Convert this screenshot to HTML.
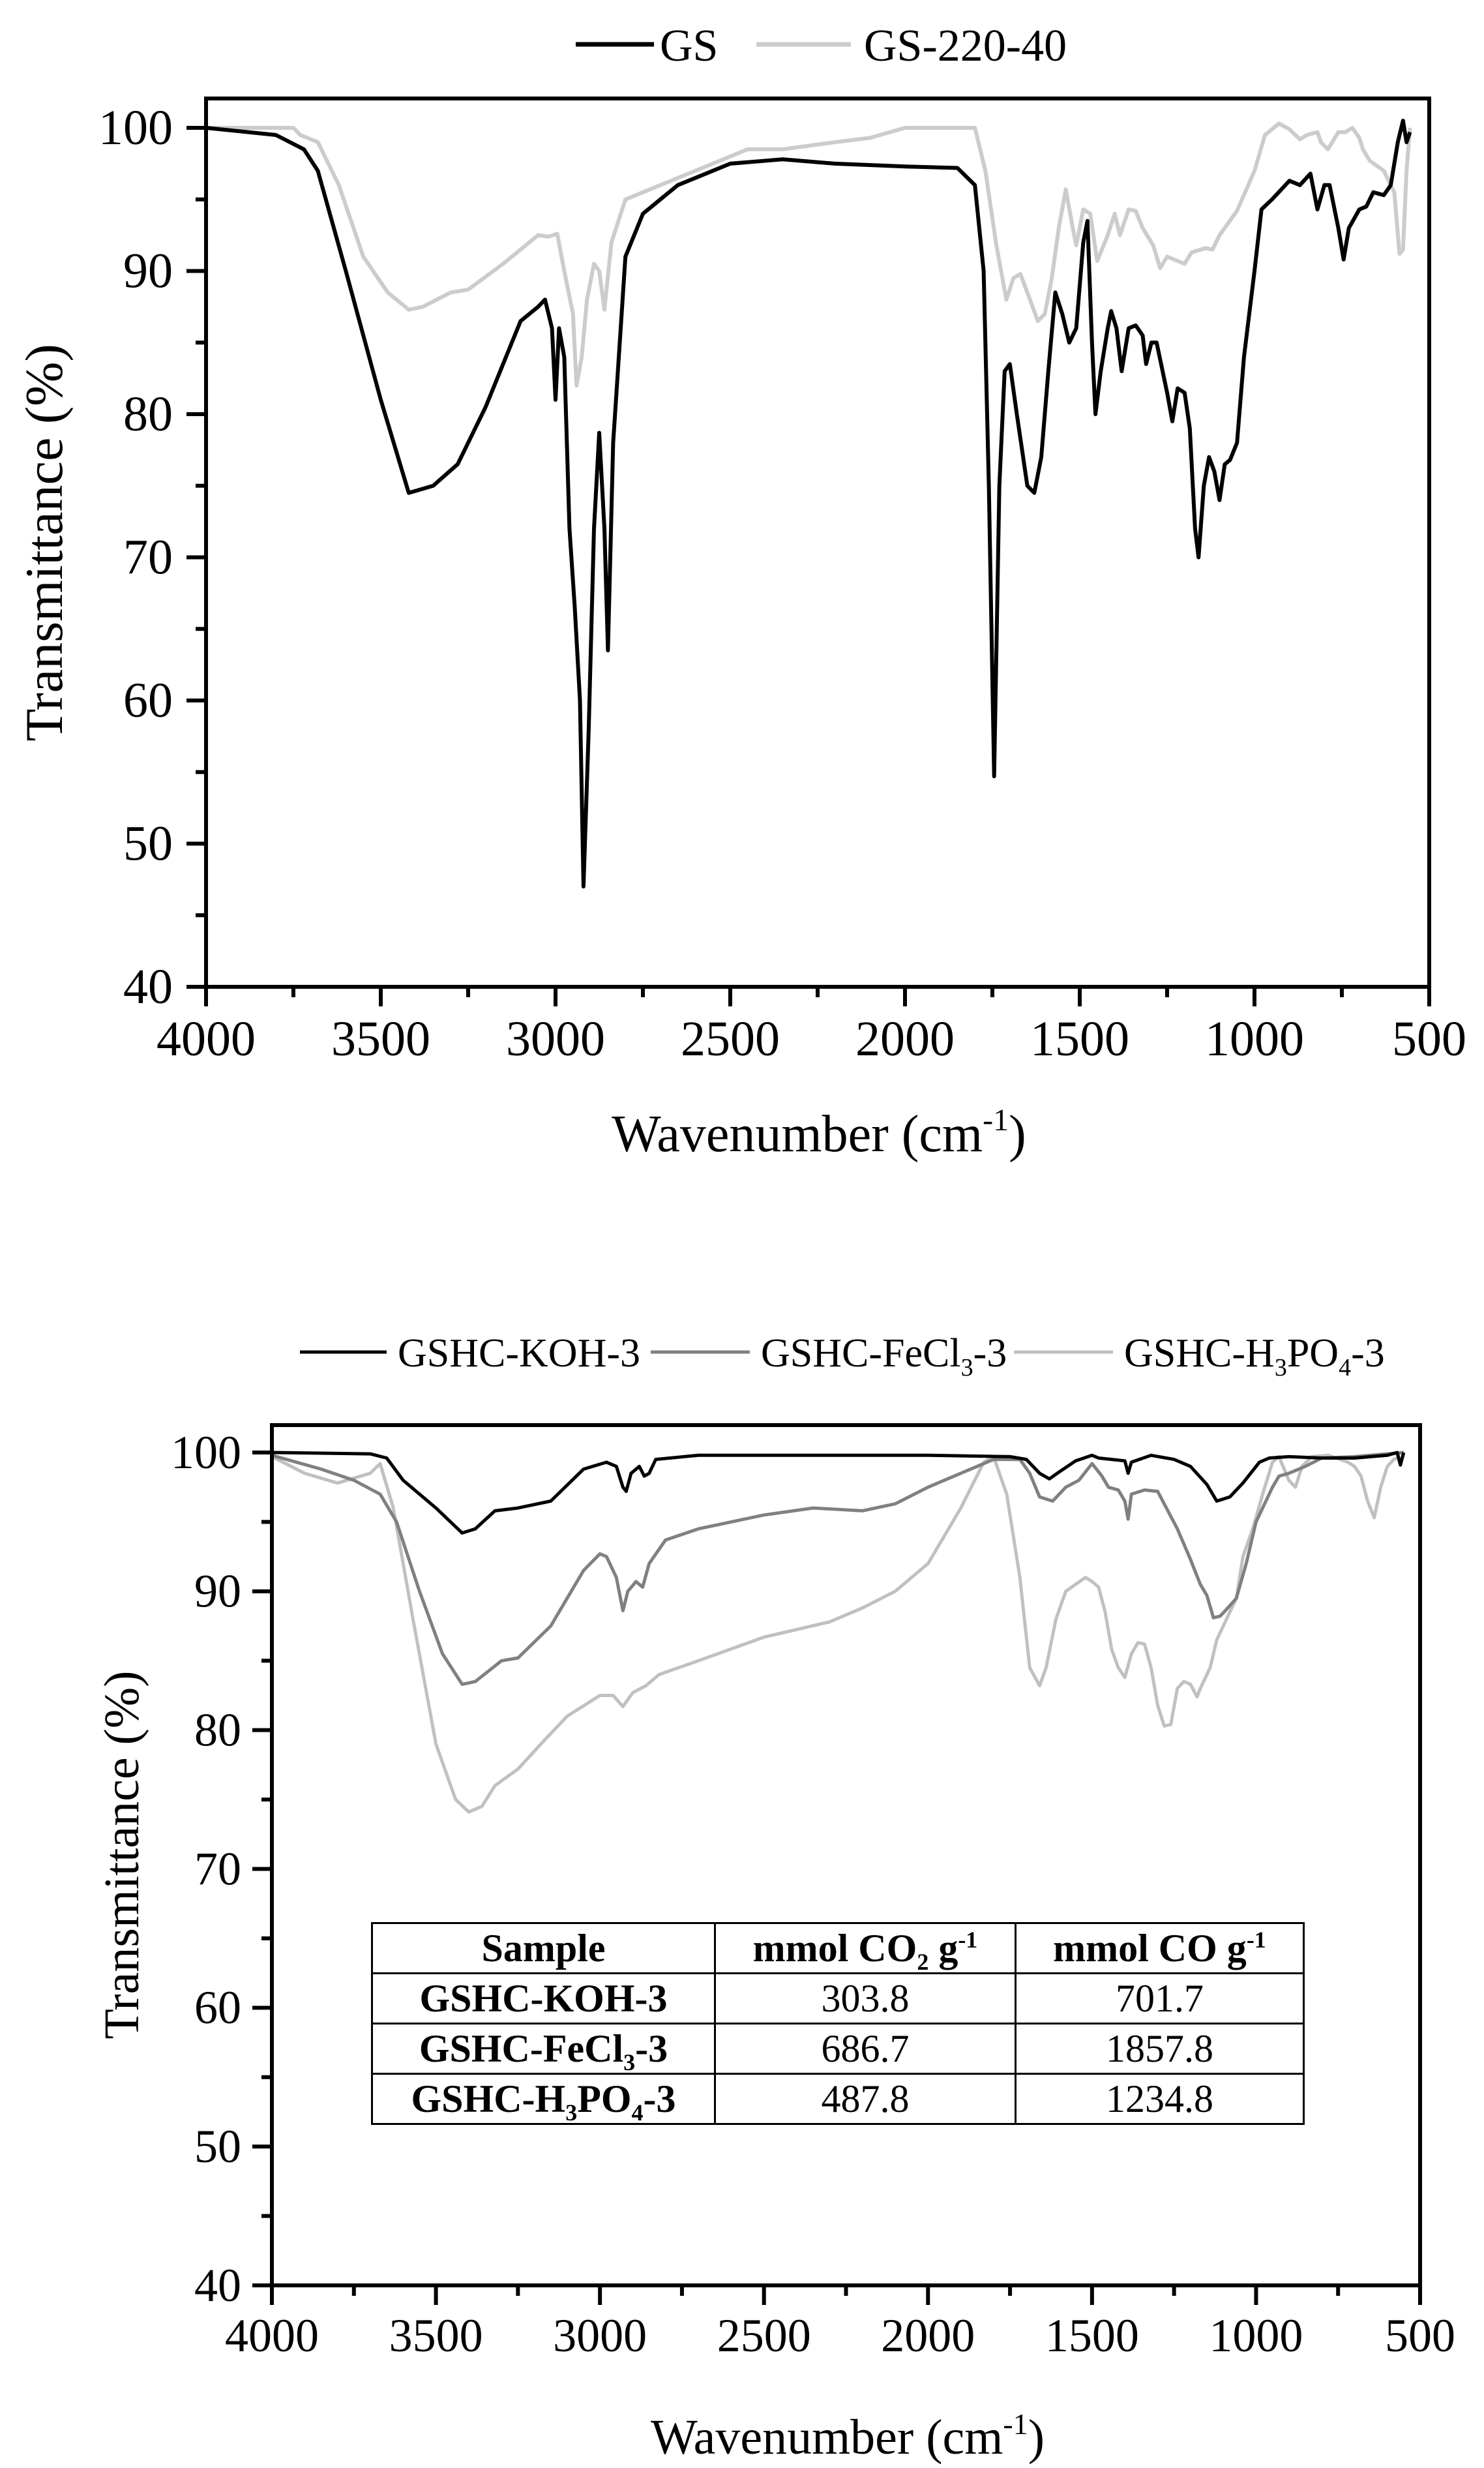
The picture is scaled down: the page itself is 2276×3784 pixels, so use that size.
<!DOCTYPE html>
<html><head><meta charset="utf-8">
<style>
html,body{margin:0;padding:0;background:#fff;}
body{width:2276px;height:3784px;position:relative;overflow:hidden;font-family:"Liberation Serif",serif;}
svg{position:absolute;left:0;top:0;}
svg text{font-family:"Liberation Serif",serif;}
.tbl{position:absolute;left:569px;top:2947px;border-collapse:collapse;font-family:"Liberation Serif",serif;font-size:60px;}
.tbl td{border:3px solid #000;text-align:center;padding:0;height:74px;line-height:74px;}
.b{font-weight:bold;}
sub,sup{font-size:0.6em;line-height:0;}
</style></head><body>
<svg id="s" width="2276" height="3784" xmlns="http://www.w3.org/2000/svg" font-family="'Liberation Serif', serif">
<g id="g"></g>
<line x1="883" y1="68" x2="1003" y2="68" stroke="#000" stroke-width="7"/>
<text x="1012" y="93" font-size="70">GS</text>
<line x1="1160" y1="68" x2="1305" y2="68" stroke="#cccccc" stroke-width="7"/>
<text x="1325" y="93" font-size="70">GS-220-40</text>
<text transform="translate(95,832) rotate(-90)" font-size="82" text-anchor="middle">Transmittance (%)</text>
<text x="1256" y="1765" font-size="80" text-anchor="middle">Wavenumber (cm<tspan dy="-32" font-size="48">-1</tspan><tspan dy="32">)</tspan></text>
<line x1="460" y1="2073" x2="593" y2="2073" stroke="#000" stroke-width="5"/>
<text x="610" y="2095" font-size="62">GSHC-KOH-3</text>
<line x1="998" y1="2073" x2="1150" y2="2073" stroke="#808080" stroke-width="5"/>
<text x="1167" y="2095" font-size="62">GSHC-FeCl<tspan dy="14" font-size="38">3</tspan><tspan dy="-14">-3</tspan></text>
<line x1="1555" y1="2073" x2="1707" y2="2073" stroke="#c0c0c0" stroke-width="5"/>
<text x="1724" y="2095" font-size="62">GSHC-H<tspan dy="14" font-size="38">3</tspan><tspan dy="-14">PO</tspan><tspan dy="14" font-size="38">4</tspan><tspan dy="-14">-3</tspan></text>
<text transform="translate(212,2844) rotate(-90)" font-size="76" text-anchor="middle">Transmittance (%)</text>
<text x="1300" y="3762" font-size="76" text-anchor="middle">Wavenumber (cm<tspan dy="-30" font-size="46">-1</tspan><tspan dy="30">)</tspan></text>
</svg>
<table class="tbl">
<tr><td class="b" style="width:523px">Sample</td><td class="b" style="width:458px">mmol CO<sub>2</sub> g<sup>-1</sup></td><td class="b" style="width:439px">mmol CO g<sup>-1</sup></td></tr>
<tr><td class="b">GSHC-KOH-3</td><td>303.8</td><td>701.7</td></tr>
<tr><td class="b">GSHC-FeCl<sub>3</sub>-3</td><td>686.7</td><td>1857.8</td></tr>
<tr><td class="b">GSHC-H<sub>3</sub>PO<sub>4</sub>-3</td><td>487.8</td><td>1234.8</td></tr>
</table>
<script>
var NS="http://www.w3.org/2000/svg",G=document.getElementById("g");
function el(t,a){var e=document.createElementNS(NS,t);for(var k in a)e.setAttribute(k,a[k]);G.appendChild(e);return e;}
function chart(c){
 var X=function(w){return c.x0+(4000-w)/3500*(c.x1-c.x0);};
 var Y=function(v){return c.yb-(v-40)/60*(c.yb-c.y100);};
 c.series.forEach(function(s){
  var d="";for(var i=0;i<s.p.length;i+=2){d+=(i?"L":"M")+X(s.p[i]).toFixed(1)+","+Y(s.p[i+1]).toFixed(1);}
  el("path",{d:d,fill:"none",stroke:s.c,"stroke-width":c.lw,"stroke-linejoin":"round"});
 });
 el("rect",{x:c.x0,y:c.top,width:c.x1-c.x0,height:c.yb-c.top,fill:"none",stroke:"#000","stroke-width":6});
 for(var w=4000;w>=500;w-=250){var x=X(w),maj=(w%500==0);
  el("line",{x1:x,y1:c.yb,x2:x,y2:c.yb+(maj?30:16),stroke:"#000","stroke-width":6});
  if(maj){var t=el("text",{x:x,y:c.xl,"font-size":c.fs,"text-anchor":"middle","font-family":"'Liberation Serif', serif"});t.textContent=w;}}
 for(var v=40;v<=100;v+=5){var y=Y(v),maj=(v%10==0);
  el("line",{x1:c.x0,y1:y,x2:c.x0-(maj?30:16),y2:y,stroke:"#000","stroke-width":6});
  if(maj){var t=el("text",{x:c.yl,y:y+c.fs*0.33,"font-size":c.fs,"text-anchor":"end","font-family":"'Liberation Serif', serif"});t.textContent=v;}}
}
chart({x0:316,x1:2192,top:151,yb:1513,y100:196,lw:6,fs:76,xl:1618,yl:265,series:[
{c:"#cccccc",p:[4000,100,3750,100,3730,99.5,3680,99,3620,96,3550,91,3480,88.5,3420,87.3,3380,87.5,3300,88.5,3250,88.7,3150,90.5,3050,92.5,3020,92.4,2995,92.6,2975,90,2950,87,2940,82,2925,84,2910,88,2890,90.5,2875,90,2860,87.3,2840,92,2800,95,2700,96,2600,97,2450,98.5,2350,98.5,2200,99,2100,99.3,2000,100,1800,100,1770,97,1740,92,1710,88,1690,89.5,1670,89.8,1650,88.5,1620,86.5,1600,87,1580,89.5,1560,93,1540,95.7,1520,93,1510,91.8,1490,94.3,1470,94,1450,90.7,1420,92.5,1400,94,1385,92.5,1360,94.3,1340,94.2,1320,93,1290,91.8,1270,90.2,1250,91,1220,90.7,1200,90.5,1180,91.3,1140,91.6,1120,91.5,1100,92.5,1050,94.2,1000,97,970,99.5,930,100.3,900,99.9,870,99.2,850,99.5,820,99.7,810,99,790,98.5,760,99.7,740,99.7,720,100,700,99.3,690,98.5,670,97.7,630,97,600,95.5,585,91.2,575,91.5,565,97,555,100]},
{c:"#000",p:[4000,100,3800,99.5,3720,98.5,3680,97,3600,90,3500,81,3420,74.5,3350,75,3280,76.5,3200,80.5,3100,86.5,3050,87.5,3030,88,3010,86,3000,81,2990,86,2975,84,2960,72,2945,66.5,2930,60,2920,47,2905,58,2890,72,2875,78.7,2860,72,2850,63.5,2835,78,2800,91,2750,94,2650,96,2500,97.5,2350,97.8,2200,97.5,2000,97.3,1850,97.2,1800,96,1775,90,1760,75,1745,54.7,1730,75,1715,83,1700,83.5,1680,80,1650,75,1630,74.5,1610,77,1590,83,1570,88.5,1550,87,1530,85,1510,86,1490,92,1478,93.5,1465,85,1455,80,1440,83,1420,86,1410,87.2,1395,86,1380,83,1360,86,1340,86.2,1320,85.5,1310,83.5,1295,85,1280,85,1250,81.5,1235,79.5,1220,81.8,1200,81.5,1185,79,1170,72,1160,70,1145,75,1130,77,1115,76,1100,74,1085,76.5,1070,76.8,1050,78,1030,84,1000,90,980,94.3,950,95,900,96.3,870,96,840,96.8,820,94.3,800,96,785,96,760,93,745,90.8,730,93,700,94.3,680,94.5,660,95.5,630,95.3,610,96,590,99,575,100.5,565,99,555,99.7]}
]});
chart({x0:417,x1:2178,top:2185,yb:3504,y100:2227,lw:5,fs:72,xl:3605,yl:370,series:[
{c:"#c0c0c0",p:[4000,99.7,3900,98.5,3800,97.8,3700,98.5,3670,99.2,3630,96,3570,88,3500,79,3440,75,3400,74.1,3360,74.5,3320,76,3250,77.2,3180,79,3100,81,3000,82.5,2960,82.5,2930,81.7,2900,82.7,2860,83.2,2820,84,2700,85,2500,86.7,2300,87.8,2200,88.8,2100,90,2000,92,1900,96,1830,99.3,1800,99.7,1760,97,1720,91,1690,84.5,1660,83.2,1640,84.5,1610,88,1580,90,1550,90.5,1520,91,1500,90.7,1480,90.3,1460,88.5,1440,85.8,1420,84.5,1400,83.8,1380,85.5,1360,86.3,1340,86.2,1320,84.5,1300,81.8,1280,80.3,1260,80.4,1240,83,1220,83.5,1200,83.3,1180,82.4,1170,83,1140,84.5,1120,86.5,1100,87.5,1060,89.5,1040,92.5,1010,94.5,980,97,950,99.3,930,99.7,900,98,880,97.5,860,99,830,99.7,780,99.8,720,99.3,700,99,680,98.3,660,96.5,640,95.3,620,97.5,600,99,580,99.5,560,99.7]},
{c:"#808080",p:[4000,99.8,3850,98.8,3750,98,3670,97,3620,95,3550,90,3480,85.5,3420,83.3,3380,83.5,3300,85,3250,85.2,3150,87.5,3050,91.5,3000,92.7,2980,92.5,2950,91,2930,88.6,2915,90,2890,90.7,2870,90.3,2850,92,2800,93.7,2700,94.5,2500,95.5,2350,96,2200,95.8,2100,96.3,2000,97.5,1800,99.5,1720,99.5,1690,98.5,1660,96.8,1620,96.5,1580,97.5,1540,98,1500,99.2,1470,98.3,1450,97.5,1420,97.3,1400,96.5,1390,95.2,1380,97,1340,97.3,1300,97.2,1280,96.3,1240,94.5,1200,92.3,1170,90.5,1150,89.7,1130,88.1,1110,88.2,1090,88.7,1060,89.5,1030,92,1000,95,950,97.5,930,98.3,900,98.5,850,99,800,99.6,700,99.7,600,99.9,550,100]},
{c:"#000",p:[4000,100,3700,99.9,3650,99.6,3600,98,3500,96,3420,94.2,3380,94.5,3320,95.8,3250,96,3150,96.5,3050,98.8,2980,99.3,2950,99,2930,97.5,2920,97.2,2905,98.5,2880,99,2865,98.3,2850,98.5,2830,99.5,2700,99.8,2000,99.8,1750,99.7,1700,99.5,1660,98.5,1630,98.1,1600,98.6,1550,99.4,1500,99.8,1480,99.6,1440,99.5,1400,99.4,1390,98.5,1380,99.3,1320,99.8,1250,99.5,1200,99,1150,97.7,1120,96.5,1080,96.8,1040,97.8,990,99.3,960,99.6,900,99.7,800,99.6,700,99.6,600,99.8,570,100,560,99.1,550,100]}
]});
</script>
</body></html>
